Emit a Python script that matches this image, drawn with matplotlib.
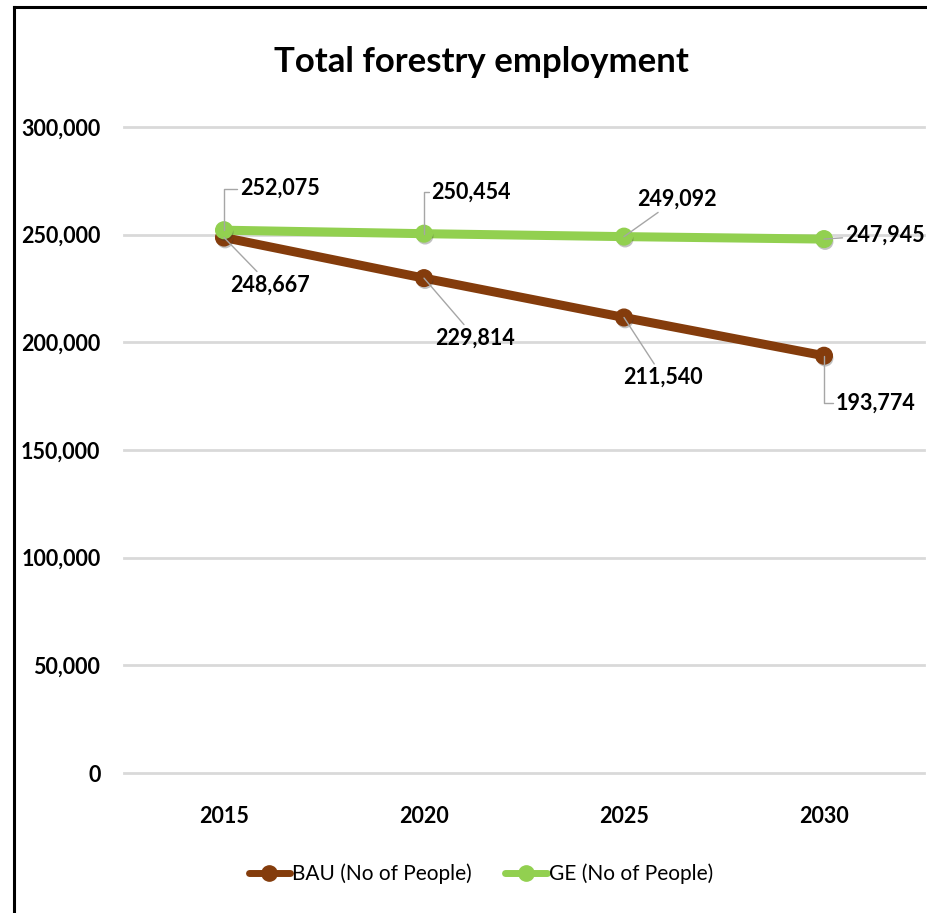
import matplotlib

matplotlib.use("Agg")
import matplotlib.pyplot as plt
import matplotlib.patheffects as pe
from matplotlib.lines import Line2D
from matplotlib.ticker import FuncFormatter

plt.rcParams["font.family"] = ["Lato", "DejaVu Sans"]

# data
years = ["2015", "2020", "2025", "2030"]
bau = [248667, 229814, 211540, 193774]
ge = [252075, 250454, 249092, 247945]

BROWN = "#843C0C"
GREEN = "#92D050"
GRID = "#D9D9D9"

W, H = 928, 913
fig = plt.figure(figsize=(W / 100, H / 100), dpi=100)
ax = fig.add_axes([124 / W, 1 - 773 / H, 800 / W, 646 / H])

x = list(range(len(years)))
shadow = [pe.SimplePatchShadow(offset=(0.8, -1.8), shadow_rgbFace="0.2", alpha=0.3), pe.Normal()]
ax.plot(x, bau, color=BROWN, lw=6.5, marker="o", ms=12, solid_capstyle="round",
        label="BAU (No of People)", zorder=3, path_effects=shadow)
ax.plot(x, ge, color=GREEN, lw=6.5, marker="o", ms=12, solid_capstyle="round",
        label="GE (No of People)", zorder=4, path_effects=shadow)

ax.set_xlim(-0.5, 3.5)
ax.set_ylim(0, 300000)
ax.set_yticks(range(0, 300001, 50000))
ax.yaxis.set_major_formatter(FuncFormatter(lambda v, _: f"{int(v):,}"))
ax.set_xticks(x)
ax.set_xticklabels(years)
ax.grid(axis="y", color=GRID, lw=2)
for gl in ax.get_ygridlines():
    gl.set_clip_on(False)
ax.set_axisbelow(True)
for s in ax.spines.values():
    s.set_visible(False)
ax.tick_params(length=0, labelsize=15.5)
ax.tick_params(axis="y", pad=17)
ax.tick_params(axis="x", pad=24)
for t in ax.get_xticklabels() + ax.get_yticklabels():
    t.set_fontweight("bold")

# data labels with leader lines (offsets in points)
lead = dict(arrowstyle="-", color="#A6A6A6", lw=1, shrinkA=0, shrinkB=0)
ge_off = [(40, 30), (34, 30), (38, 27), (44, 3)]
bau_off = [(33, -34), (37, -43), (28, -43), (37, -34)]
ge_conn = ["angle,angleA=0,angleB=90,rad=0", "angle,angleA=0,angleB=90,rad=0",
           "arc3", "arc3"]
bau_conn = ["arc3", "arc3", "arc3", "angle,angleA=0,angleB=90,rad=0"]
for i in x:
    ax.annotate(f"{ge[i]:,}", (i, ge[i]), xytext=ge_off[i], textcoords="offset points",
                ha="center", va="center", fontsize=15.5, fontweight="bold",
                arrowprops=dict(lead, connectionstyle=ge_conn[i]), zorder=5)
    ax.annotate(f"{bau[i]:,}", (i, bau[i]), xytext=bau_off[i], textcoords="offset points",
                ha="center", va="center", fontsize=15.5, fontweight="bold",
                arrowprops=dict(lead, connectionstyle=bau_conn[i]), zorder=5)

fig.text(481 / W, 1 - 62 / H, "Total forestry employment", ha="center", va="center",
         fontsize=25, fontweight="bold")

leg = fig.legend(loc="center", bbox_to_anchor=(481 / W, 1 - 874 / H), ncol=2,
                 frameon=False, fontsize=15, handlelength=2.0, handletextpad=0.1,
                 columnspacing=1.6)
for h in leg.legend_handles:
    h.set_linewidth(5)
    h.set_markersize(11)
    h.set_path_effects([])

# outer frame: top and left edges only
fig.add_artist(Line2D([14 / W, 14 / W], [0, 1 - 7 / H], color="black", lw=2.2,
                      transform=fig.transFigure))
fig.add_artist(Line2D([14 / W, 1], [1 - 7 / H, 1 - 7 / H], color="black", lw=2.2,
                      transform=fig.transFigure))

fig.savefig("out.png", dpi=100, facecolor="white")
